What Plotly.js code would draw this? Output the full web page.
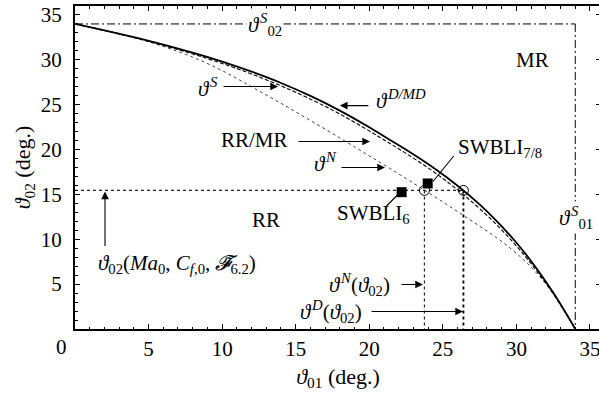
<!DOCTYPE html>
<html><head><meta charset="utf-8">
<script src="https://cdn.plot.ly/plotly-3.0.1.min.js"></script>
<style>html,body{margin:0;padding:0;overflow:hidden;background:#fff}#c{width:605px;height:395px}</style>
</head><body><div id="c"></div>
<script>
// Detachment curve theta^{D/MD}
const dX = [0,2,4,6,8,10,12,14,16,18,20,21.24,22.48,24.34,25.98,27.42,28.68,29.80,30.80,31.70,32.52,33.28,34];
const dY = [34,33.28,32.52,31.70,30.80,29.80,28.68,27.42,25.98,24.34,22.48,21.24,20,18,16,14,12,10,8,6,4,2,0];
// Sonic curve theta^S
const sX = [0,2,4,6,8,10,12,14,16,18,20,21.04,22.08,23.96,25.62,27.1,28.42,29.6,30.65,31.6,32.47,33.26,34];
const sY = [34,33.26,32.47,31.6,30.65,29.6,28.42,27.1,25.62,23.96,22.08,21.04,20,18,16,14,12,10,8,6,4,2,0];
// von Neumann curve theta^N
const nX = [0,2,4,6,8,10,12,14,16,18,19.65,21.3,23.24,25.15,27.0,28.8,30.3,31.5,32.5,33.3,34];
const nY = [34,33.3,32.5,31.5,30.3,28.8,27.0,25.15,23.24,21.3,19.65,18,16,14,12,10,8,6,4,2,0];
// reference values
const theta02S = 34, theta01S = 34;
const theta02 = 15.45, thetaN02 = 23.75, thetaD02 = 26.4;
const swbli6 = {x:[22.2], y:[15.25]};
const swbli78 = {x:[23.97], y:[16.22]};
const xTicks = [0,5,10,15,20,25,30,35];
const yTicks = [5,10,15,20,25,30,35];

const F = 'Liberation Serif';
const FS = 21;
const H = '\u200A';
const traces = [
  {x:[0,theta01S], y:[theta02S,theta02S], mode:'lines', line:{color:'#000',width:1,dash:'8px,3px,2px,3px'}},
  {x:[theta01S,theta01S], y:[theta02S,0], mode:'lines', line:{color:'#000',width:1,dash:'8px,3px,2px,3px'}},
  {x:[0,thetaD02], y:[theta02,theta02], mode:'lines', line:{color:'#222',width:1.2,dash:'dot'}},
  {x:[thetaN02,thetaN02], y:[theta02,0], mode:'lines', line:{color:'#222',width:1.2,dash:'dot'}},
  {x:[thetaD02,thetaD02], y:[theta02,0], mode:'lines', line:{color:'#000',width:1.8,dash:'dot'}},
  {x:nX, y:nY, mode:'lines', line:{color:'#444',width:1,dash:'dot',shape:'spline'}},
  {x:sX, y:sY, mode:'lines', line:{color:'#000',width:1.1,dash:'4px,2px',shape:'spline'}},
  {x:dX, y:dY, mode:'lines', line:{color:'#000',width:1.8,shape:'spline'}},
  {x:[thetaN02,thetaD02], y:[theta02,theta02], mode:'markers', marker:{symbol:'circle-open',size:10,color:'#000',line:{width:1}}},
  {x:swbli6.x, y:swbli6.y, mode:'markers', marker:{symbol:'square',size:10,color:'#000'}},
  {x:swbli78.x, y:swbli78.y, mode:'markers', marker:{symbol:'square',size:10,color:'#000'}}
];
function arr(x,y,ax,ay,head){return {x:x,y:y,ax:ax,ay:ay,text:'',showarrow:true,arrowhead:head===undefined?2:head,arrowsize:1.4,arrowwidth:1.1,arrowcolor:'#000',standoff:0,startstandoff:0};}
function txt(x,y,t,opts){return Object.assign({x:x,y:y,text:t,showarrow:false,font:{family:F,size:FS,color:'#000'}},opts||{});}
const ann = [
  arr(13.8,27.03,-56,0),
  arr(18.0,24.9,30,0),
  arr(20.05,20.9,-73,0),
  arr(21.07,18.0,-45,0),
  arr(2.04,15.33,0,56),
  arr(23.65,4.96,-23,0),
  arr(26.37,1.95,-93,0),
  arr(24.33,16.44,22,-27,0),
  arr(21.95,14.99,-13,13,0),
  txt(12.9,33.9,'<i>ϑ</i>'+H+'<sup><i>S</i></sup><sub>02</sub>',{bgcolor:'#fff'}),
  txt(34.05,12.4,'<i>ϑ</i>'+H+'<sup><i>S</i></sup><sub>01</sub>',{bgcolor:'#fff'}),
  txt(31.1,30.0,'MR'),
  txt(20.3,25.6,'<i>ϑ</i>'+H+'<sup><i>D/MD</i></sup>',{xanchor:'left'}),
  txt(9.85,26.9,'<i>ϑ</i>'+H+'<sup><i>S</i></sup>',{xanchor:'right'}),
  txt(12.17,21.1,'RR/MR'),
  txt(17.0,18.55,'<i>ϑ</i>'+H+'<sup><i>N</i></sup>'),
  txt(28.9,20.2,'SWBLI<sub>7/8</sub>'),
  txt(20.3,12.77,'SWBLI<sub>6</sub>'),
  txt(13.0,12.2,'RR'),
  txt(6.93,7.19,'<i>ϑ</i><sub>02</sub>(<i>Ma</i><sub>0</sub>, <i>C</i><sub><i>f</i>,0</sub>, <i>𝓕̃</i><sub>6.2</sub>)'),
  txt(21.54,4.96,'<i>ϑ</i>'+H+'<sup><i>N</i></sup>(<i>ϑ</i><sub>02</sub>)',{xanchor:'right'}),
  txt(19.64,1.95,'<i>ϑ</i>'+H+'<sup><i>D</i></sup>(<i>ϑ</i><sub>02</sub>)',{xanchor:'right'}),
  {x:0,y:0,xref:'x',yref:'paper',text:'0',showarrow:false,xshift:-14,yshift:-18,yanchor:'middle',font:{family:F,size:FS,color:'#000'}}
];
const layout = {
  width:605, height:395, margin:{l:75,r:4,t:6,b:66},
  paper_bgcolor:'#fff', plot_bgcolor:'#fff', showlegend:false,
  font:{family:F,size:FS,color:'#000'},
  xaxis:{range:[0,35.75], tickvals:xTicks, ticktext:xTicks.map(v=>v===0?'':String(v)), ticks:'inside', ticklen:5, tickwidth:1, tickcolor:'#000',
    tickfont:{family:F,size:FS},
    minor:{dtick:1, ticks:'inside', ticklen:2.5, tickcolor:'#000', tickwidth:1}, showgrid:false, zeroline:false,
    showline:true, linecolor:'#000', linewidth:2, mirror:'ticks', ticklabelstandoff:0,
    title:{text:'<i>ϑ</i><sub>01</sub> (deg.)', font:{family:F,size:22}, standoff:8}},
  yaxis:{range:[0,36], tickvals:yTicks, ticks:'inside', ticklen:5, tickwidth:1, tickcolor:'#000',
    tickfont:{family:F,size:FS},
    minor:{dtick:1, ticks:'inside', ticklen:2.5, tickcolor:'#000', tickwidth:1}, showgrid:false, zeroline:false,
    showline:true, linecolor:'#000', linewidth:2, mirror:'ticks', ticklabelstandoff:7,
    title:{text:'<i>ϑ</i><sub>02</sub> (deg.)', font:{family:F,size:22}, standoff:4}},
  annotations:ann
};
Plotly.newPlot('c', traces, layout, {staticPlot:true, displayModeBar:false});
</script></body></html>
